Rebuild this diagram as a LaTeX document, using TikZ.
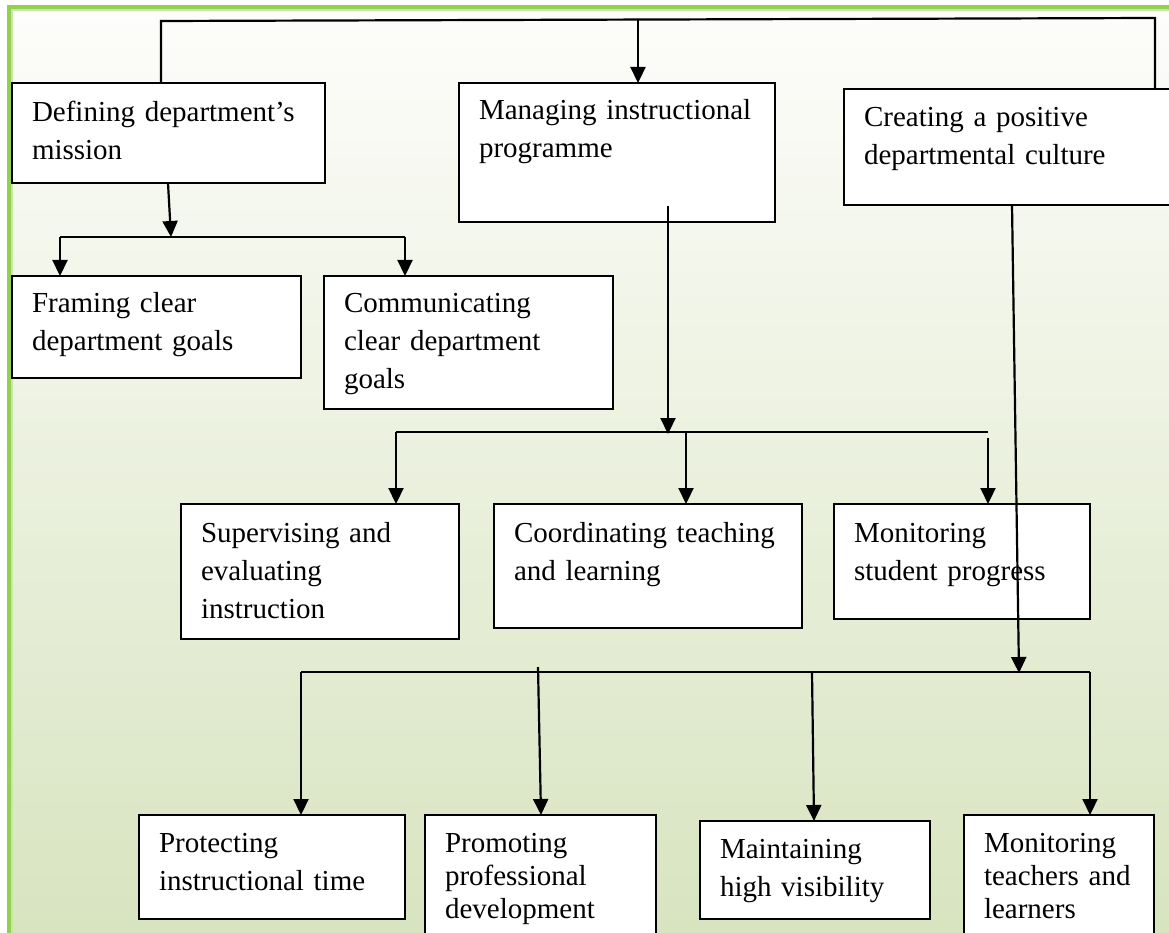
\documentclass[tikz,border=0pt]{standalone}
\usepackage{fontspec}
\setmainfont{Liberation Serif}
\usetikzlibrary{arrows.meta,calc}
\definecolor{framegreen}{RGB}{146,208,80}
\definecolor{framelight}{RGB}{200,230,165}
\definecolor{bgtop}{RGB}{253,253,251}
\definecolor{bgbottom}{RGB}{216,228,192}
\tikzset{
  cell/.style={draw=black, line width=2.2pt, fill=white, inner sep=0pt, outer sep=0pt, anchor=north west},
  celltext/.style={anchor=base west, inner sep=0pt, outer sep=0pt, align=left, text width=320pt,
                   font=\fontsize{29}{38}\selectfont},
  wire/.style={line width=2.2pt},
  arr/.style={wire, -{Triangle[length=16pt,width=15pt]}},
}
\begin{document}
\begin{tikzpicture}[x=1pt,y=-1pt]
\useasboundingbox (0,0) rectangle (1169,933);
\clip (0,0) rectangle (1169,933);
% page background and green frame
\fill[white] (0,0) rectangle (1169,933);
\shade[top color=bgtop, bottom color=bgbottom] (11,9) rectangle (1169,933);
\fill[framegreen] (7,5) rectangle (11,933);
\fill[framegreen] (7,5) rectangle (1169,9);
\fill[framelight] (11,9) rectangle (13,933);
\fill[framelight] (11,9) rectangle (1169,11);

% first level
\node[cell, minimum width=313pt, minimum height=100pt] (a) at (12,83) {};
\node[celltext] (a-t) at ($(a.north west)+(20,39)$) {Defining department’s\\mission};
\node[cell, minimum width=316pt, minimum height=139pt] (b) at (459,83) {};
\node[celltext] (b-t) at ($(b.north west)+(20,37)$) {Managing instructional\\programme};
\node[cell, minimum width=331pt, minimum height=116pt] (c) at (844,89) {};
\node[celltext] (c-t) at ($(c.north west)+(20,38)$) {Creating a positive\\departmental culture};

% mission branch
\node[cell, minimum width=289pt, minimum height=102pt] (d) at (12,276) {};
\node[celltext] (d-t) at ($(d.north west)+(20,36)$) {Framing clear\\department goals};
\node[cell, minimum width=289pt, minimum height=133pt] (e) at (324,276) {};
\node[celltext] (e-t) at ($(e.north west)+(20,36)$) {Communicating\\clear department\\goals};

% instructional programme branch
\node[cell, minimum width=278pt, minimum height=135pt] (f) at (181,504) {};
\node[celltext] (f-t) at ($(f.north west)+(20,38)$) {Supervising and\\evaluating\\instruction};
\node[cell, minimum width=308pt, minimum height=124pt] (g) at (494,504) {};
\node[celltext] (g-t) at ($(g.north west)+(20,38)$) {Coordinating teaching\\and learning};
\node[cell, minimum width=256pt, minimum height=115pt] (h) at (834,504) {};
\node[celltext] (h-t) at ($(h.north west)+(20,38)$) {Monitoring\\student progress};

% culture branch
\node[cell, minimum width=266pt, minimum height=104pt] (i) at (139,815) {};
\node[celltext] (i-t) at ($(i.north west)+(20,37)$) {Protecting\\instructional time};
\node[cell, minimum width=231pt, minimum height=130pt] (j) at (425,815) {};
\node[celltext, font=\fontsize{29}{33}\selectfont] (j-t) at ($(j.north west)+(20,37)$) {Promoting\\professional\\development};
\node[cell, minimum width=230pt, minimum height=98pt] (k) at (700,821) {};
\node[celltext] (k-t) at ($(k.north west)+(20,37)$) {Maintaining\\high visibility};
\node[cell, minimum width=190pt, minimum height=130pt] (l) at (964,815) {};
\node[celltext, font=\fontsize{29}{33}\selectfont] (l-t) at ($(l.north west)+(20,37)$) {Monitoring\\teachers and\\learners};

% top bus
\coordinate (top-l) at (161,21);
\coordinate (top-m) at (638,20);
\coordinate (top-r) at (1155,18);
\draw[wire] (a.north -| top-l) -- (top-l) -- (top-r) -- (c.north -| top-r);
\draw[arr] (top-m) -- (b.north -| top-m);

% mission to goals
\coordinate (a-out) at (168,0);
\coordinate (de) at (171,237);
\coordinate (de-l) at (60,237);
\coordinate (de-r) at (405,237);
\draw[arr] (a.south -| a-out) -- (de);
\draw[wire] (de-l) -- (de-r);
\draw[arr] (de-l) -- (d.north -| de-l);
\draw[arr] (de-r) -- (e.north -| de-r);

% programme to its functions
\coordinate (b-out) at (668,206);
\coordinate (fgh) at (668,434);
\coordinate (fgh-l) at (396,432);
\coordinate (fgh-m) at (686,432);
\coordinate (fgh-r) at (988,432);
\coordinate (h-in) at (988,438);
\draw[arr] (b-out) -- (fgh);
\draw[wire] (fgh-l) -- (fgh-r);
\draw[arr] (fgh-l) -- (f.north -| fgh-l);
\draw[arr] (fgh-m) -- (g.north -| fgh-m);
\draw[arr] (h-in) -- (h.north -| h-in);

% culture to its functions
\coordinate (c-out) at (1012,0);
\coordinate (ijkl) at (1019,673);
\coordinate (ijkl-l) at (301,672);
\coordinate (ijkl-r) at (1090,672);
\coordinate (j-top) at (538,667);
\coordinate (j-in) at (541,0);
\coordinate (k-top) at (812,672);
\coordinate (k-in) at (814,0);
\draw[arr] (c.south -| c-out) -- (ijkl);
\draw[wire] (ijkl-l) -- (ijkl-r);
\draw[arr] (ijkl-l) -- (i.north -| ijkl-l);
\draw[arr] (j-top) -- (j.north -| j-in);
\draw[arr] (k-top) -- (k.north -| k-in);
\draw[arr] (ijkl-r) -- (l.north -| ijkl-r);
\end{tikzpicture}
\end{document}
